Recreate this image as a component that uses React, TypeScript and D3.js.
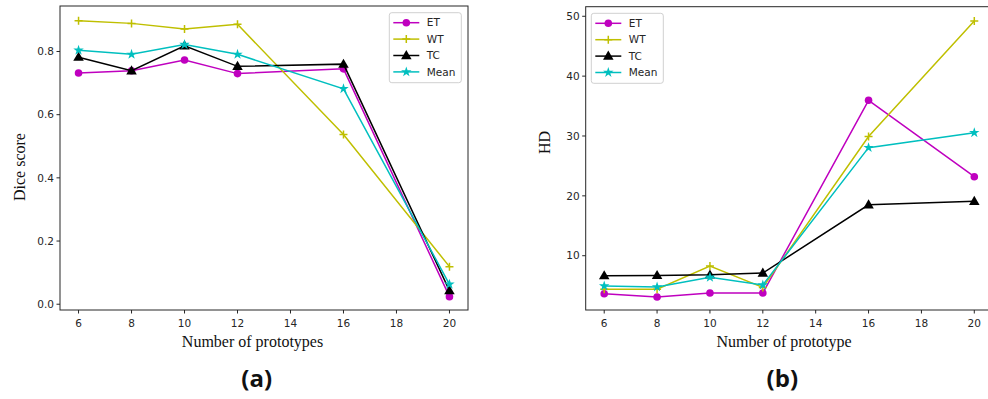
import { useEffect, useRef } from 'react';
import * as d3 from 'd3';

const prototypes = [6, 8, 10, 12, 16, 20];
const xTicks = [6, 8, 10, 12, 14, 16, 18, 20];

const diceET = [0.732, 0.739, 0.773, 0.73, 0.745, 0.024];
const diceWT = [0.897, 0.889, 0.871, 0.886, 0.537, 0.119];
const diceTC = [0.782, 0.739, 0.818, 0.753, 0.76, 0.043];
const diceMean = [0.804, 0.791, 0.822, 0.791, 0.682, 0.063];
const diceTicks = [0.0, 0.2, 0.4, 0.6, 0.8];

const hdET = [3.65, 3.1, 3.77, 3.77, 35.96, 23.2];
const hdWT = [4.4, 4.4, 8.28, 4.7, 29.9, 49.2];
const hdTC = [6.66, 6.7, 6.8, 7.1, 18.5, 19.1];
const hdMean = [4.94, 4.77, 6.39, 5.1, 28.05, 30.55];
const hdTicks = [10, 20, 30, 40, 50];

const seriesNames = ['ET', 'WT', 'TC', 'Mean'];
const seriesColors = ['#bf00bf', '#bfbf00', '#000000', '#00bfbf'];

const W = 988;
const H = 399;
const TICK_FONT = 'DejaVu Sans, sans-serif';
const SERIF = 'Liberation Serif, Times New Roman, serif';

type Panel = {
  box: { x0: number; x1: number; y0: number; y1: number };
  yDomain: [number, number];
  yTicks: number[];
  yFmt: (v: number) => string;
  series: number[][];
  xLabel: string;
  xLabelX: number;
  yLabel: string;
  yLabelPos: [number, number];
  caption: string;
  captionX: number;
  legend: { x: number; y: number };
};

function drawMarker(g: d3.Selection<SVGGElement, unknown, null, undefined>, i: number, cx: number, cy: number, color: string) {
  if (i === 0) {
    g.append('circle').attr('cx', cx).attr('cy', cy).attr('r', 3.8).attr('fill', color);
  } else if (i === 1) {
    g.append('path')
      .attr('d', `M${cx - 4},${cy}H${cx + 4}M${cx},${cy - 4}V${cy + 4}`)
      .attr('stroke', color)
      .attr('stroke-width', 1.5)
      .attr('fill', 'none');
  } else if (i === 2) {
    g.append('path')
      .attr('d', d3.symbol(d3.symbolTriangle, 48)()!)
      .attr('transform', `translate(${cx},${cy + 0.6})`)
      .attr('fill', color);
  } else {
    g.append('path')
      .attr('d', d3.symbol(d3.symbolStar, 34)()!)
      .attr('transform', `translate(${cx},${cy})`)
      .attr('fill', color);
  }
}

function drawPanel(svg: d3.Selection<SVGSVGElement, unknown, null, undefined>, p: Panel) {
  const { x0, x1, y0, y1 } = p.box;
  const x = d3.scaleLinear().domain([5.3, 20.7]).range([x0, x1]);
  const y = d3.scaleLinear().domain(p.yDomain).range([y1, y0]);
  const g = svg.append('g');

  const clipId = `clip-${p.caption.replace(/\W/g, '')}`;
  svg
    .append('clipPath')
    .attr('id', clipId)
    .append('rect')
    .attr('x', x0)
    .attr('y', y0)
    .attr('width', x1 - x0)
    .attr('height', y1 - y0);

  const plot = g.append('g').attr('clip-path', `url(#${clipId})`);
  const line = d3
    .line<number>()
    .x((_, i) => x(prototypes[i]))
    .y((d) => y(d));

  p.series.forEach((vals, si) => {
    const color = seriesColors[si];
    plot
      .append('path')
      .datum(vals)
      .attr('d', line)
      .attr('fill', 'none')
      .attr('stroke', color)
      .attr('stroke-width', 1.5);
    vals.forEach((v, i) => drawMarker(plot, si, x(prototypes[i]), y(v), color));
  });

  // frame
  g.append('rect')
    .attr('x', x0)
    .attr('y', y0)
    .attr('width', x1 - x0)
    .attr('height', y1 - y0)
    .attr('fill', 'none')
    .attr('stroke', '#262626')
    .attr('stroke-width', 1);

  // x ticks
  xTicks.forEach((t) => {
    const tx = x(t);
    g.append('line').attr('x1', tx).attr('x2', tx).attr('y1', y1).attr('y2', y1 + 3.5).attr('stroke', '#262626');
    g.append('text')
      .attr('x', tx)
      .attr('y', y1 + 17)
      .attr('text-anchor', 'middle')
      .attr('font-family', TICK_FONT)
      .attr('font-size', 10.5)
      .attr('fill', '#262626')
      .text(String(t));
  });

  // y ticks
  p.yTicks.forEach((t) => {
    const ty = y(t);
    g.append('line').attr('x1', x0 - 3.5).attr('x2', x0).attr('y1', ty).attr('y2', ty).attr('stroke', '#262626');
    g.append('text')
      .attr('x', x0 - 6)
      .attr('y', ty)
      .attr('dy', '0.36em')
      .attr('text-anchor', 'end')
      .attr('font-family', TICK_FONT)
      .attr('font-size', 10.5)
      .attr('fill', '#262626')
      .text(p.yFmt(t));
  });

  g.append('text')
    .attr('x', p.xLabelX)
    .attr('y', 347)
    .attr('text-anchor', 'middle')
    .attr('font-family', SERIF)
    .attr('font-size', 16)
    .attr('fill', '#111')
    .text(p.xLabel);

  g.append('text')
    .attr('transform', `translate(${p.yLabelPos[0]},${p.yLabelPos[1]}) rotate(-90)`)
    .attr('dy', '0.35em')
    .attr('text-anchor', 'middle')
    .attr('font-family', SERIF)
    .attr('font-size', 16)
    .attr('fill', '#111')
    .text(p.yLabel);

  g.append('text')
    .attr('x', p.captionX)
    .attr('y', 387)
    .attr('text-anchor', 'middle')
    .attr('font-family', 'Open Sans, sans-serif')
    .attr('font-weight', 'bold')
    .attr('font-size', 24)
    .attr('fill', '#111')
    .text(p.caption);

  // legend
  const lg = g.append('g');
  lg.append('rect')
    .attr('x', p.legend.x)
    .attr('y', p.legend.y)
    .attr('width', 72)
    .attr('height', 70)
    .attr('rx', 2.5)
    .attr('fill', 'white')
    .attr('fill-opacity', 0.8)
    .attr('stroke', '#d0d0d0')
    .attr('stroke-width', 1);
  seriesNames.forEach((name, i) => {
    const ry = p.legend.y + 10 + i * 16.4;
    const lx = p.legend.x + 4;
    lg.append('line')
      .attr('x1', lx)
      .attr('x2', lx + 26)
      .attr('y1', ry)
      .attr('y2', ry)
      .attr('stroke', seriesColors[i])
      .attr('stroke-width', 1.5);
    drawMarker(lg, i, lx + 13, ry, seriesColors[i]);
    lg.append('text')
      .attr('x', lx + 33.5)
      .attr('y', ry)
      .attr('dy', '0.36em')
      .attr('font-family', TICK_FONT)
      .attr('font-size', 10.5)
      .attr('fill', '#262626')
      .text(name);
  });
}

export default function App() {
  const ref = useRef<SVGSVGElement>(null);

  useEffect(() => {
    if (!ref.current) return;
    const svg = d3.select(ref.current);
    svg.selectAll('*').remove();

    drawPanel(svg, {
      box: { x0: 60, x1: 468, y0: 6, y1: 310 },
      yDomain: [-0.0183, 0.944],
      yTicks: diceTicks,
      yFmt: (v) => v.toFixed(1),
      series: [diceET, diceWT, diceTC, diceMean],
      xLabel: 'Number of prototypes',
      xLabelX: 252.5,
      yLabel: 'Dice score',
      yLabelPos: [19, 167],
      caption: '(a)',
      captionX: 256.7,
      legend: { x: 389.3, y: 12.7 },
    });

    drawPanel(svg, {
      box: { x0: 585.7, x1: 992.8, y0: 6.7, y1: 310 },
      yDomain: [0.93, 51.6],
      yTicks: hdTicks,
      yFmt: (v) => String(v),
      series: [hdET, hdWT, hdTC, hdMean],
      xLabel: 'Number of prototype',
      xLabelX: 784,
      yLabel: 'HD',
      yLabelPos: [544, 142.5],
      caption: '(b)',
      captionX: 782.3,
      legend: { x: 591.3, y: 13.3 },
    });
  }, []);

  return (
    <svg
      ref={ref}
      width={W}
      height={H}
      style={{ position: 'absolute', left: 0, top: 0, background: 'white' }}
    />
  );
}
